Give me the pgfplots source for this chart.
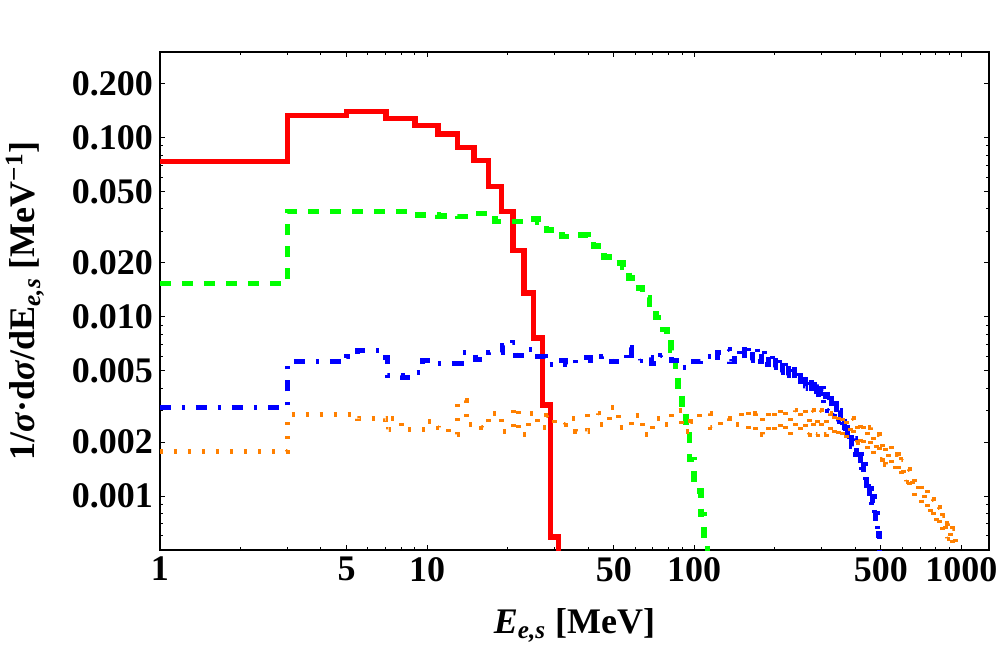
\documentclass[border=0pt]{standalone}
\usepackage{fontspec}
\setmainfont{Liberation Serif}
\usepackage{pgfplots}
\pgfplotsset{compat=1.18}
\definecolor{mred}{rgb}{1,0,0}
\definecolor{mgreen}{rgb}{0,1,0}
\definecolor{mblue}{rgb}{0,0,1}
\definecolor{morange}{rgb}{1,0.5,0}
\newcommand{\lbl}{\fontsize{18}{20}\selectfont\bfseries}
\begin{document}
\begin{tikzpicture}
\useasboundingbox (-80pt,-57pt) rectangle (420pt,275pt);
\begin{axis}[
    scale only axis,
    width=414.5pt, height=249pt,
    xmode=log, ymode=log,
    xmin=1, xmax=1270, ymin=0.0005, ymax=0.3,
    xtick={1,5,10,50,100,500,1000},
    xticklabels={1,5,10,50,100,500,1000},
    minor xtick={2,3,4,6,7,8,9,20,30,40,60,70,80,90,200,300,400,600,700,800,900},
    ytick={0.001,0.002,0.005,0.01,0.02,0.05,0.1,0.2},
    yticklabels={0.001,0.002,0.005,0.010,0.020,0.050,0.100,0.200},
    minor ytick={0.0006,0.0007,0.0008,0.0009,0.003,0.004,0.006,0.007,0.008,0.009,0.03,0.04,0.06,0.07,0.08,0.09},
    tick align=inside,
    major tick length=2.5pt, minor tick length=1.7pt,
    every tick/.style={black, line width=0.4pt},
    axis line style={line width=0.8pt},
    ticklabel style={font=\lbl},
    label style={font=\lbl},
    xlabel={\textit{E}\textsubscript{\textit{e,s}} [MeV]},
    ylabel={1/\textit{σ}·d\textit{σ}/dE\textsubscript{\textit{e,s}} [MeV\textsuperscript{−1}]},
    xlabel style={at={(axis description cs:0.5,-0.151)}, anchor=center},
    ylabel style={at={(axis description cs:-0.163,0.5)}, anchor=center},
    const plot,
]
% red: solid
\addplot[mred, line width=2.8pt] coordinates {
(1,0.0735) (3,0.133) (5,0.140) (7,0.128) (9,0.117) (11,0.105) (13,0.088)
(15,0.0744) (17,0.0532) (19,0.0386) (21,0.0234) (23,0.0136) (25,0.00764)
(27,0.00322) (29,0.00059) (31,0.0002) (33,0.0002)
};
% green: dashed
\addplot[mgreen, line width=2.8pt, dash pattern=on 5.5pt off 5.5pt] coordinates {
(1,0.0153) (3,0.0386) (9,0.0371) (11,0.0366) (13,0.0362) (15,0.0376) (18,0.034)
(24,0.0352) (26,0.0338) (28,0.0306) (32,0.028) (36,0.0285) (40,0.0272) (42,0.0249)
(46,0.0216) (50,0.0200) (54,0.0190) (57,0.0165)
(60,0.0145) (64,0.0128) (68,0.0112) (72,0.0099) (76,0.0085) (79,0.0074) (82,0.0065)
(85,0.0049) (87,0.0038) (90,0.0030) (93,0.0023) (96,0.0016) (100,0.00107)
(106,0.00079) (109,0.00054) (112,0.0003) (115,0.0003)
};
% blue: dash-dot
\addplot[mblue, line width=2.5pt, dash pattern=on 5.5pt off 5.5pt on 1.5pt off 5.5pt] coordinates {
(1,0.0031) (3,0.0056) (4.4,0.0056) (5.0,0.0060) (5.5,0.0065) (7.0,0.0059) (7.1,0.0047)
(8.1,0.0046) (8.9,0.0049) (9.6,0.0057) (10.9,0.0055) (12.6,0.0055) (13.4,0.0063)
(15.2,0.0058) (17,0.0063) (19.2,0.0069) (20.9,0.0072) (21.5,0.0061) (23.4,0.0066)
(26,0.0060) (27.8,0.0054) (30.9,0.0057) (33.1,0.0054) (36,0.0059) (41,0.0057)
(45,0.0060) (49,0.0056) (55.6,0.0067) (58,0.0057) (63,0.0059) (69,0.0055) (75,0.0061)
(82,0.0057) (89,0.0052) (97,0.0056) (106,0.0060) (116,0.0057) (122,0.0063)
(130,0.0066) (136,0.0056) (142,0.0065) (148,0.0058) (154,0.0070) (160,0.0057)
(166,0.0068) (172,0.0056) (178,0.0066) (184,0.0054) (190,0.0063) (196,0.0052)
(202,0.0061) (208,0.0049) (214,0.0058) (220,0.0047) (226,0.0055) (232,0.0045)
(238,0.0053) (244,0.0042) (250,0.0050) (256,0.0040) (262,0.0047) (268,0.0038)
(274,0.0045) (280,0.0036) (286,0.0042) (292,0.0034) (298,0.0040) (304,0.0032)
(310,0.0037) (316,0.0030) (322,0.0035) (328,0.0028) (334,0.0033) (340,0.0026)
(346,0.0030) (352,0.0024) (358,0.0028) (364,0.0022) (370,0.0026) (376,0.0020)
(382,0.0023) (388,0.0019) (394,0.0021) (400,0.0017) (406,0.0019) (412,0.0015)
(418,0.0017) (424,0.0013) (430,0.0015) (436,0.0011) (442,0.0013) (448,0.0010)
(454,0.0011) (460,0.00085) (466,0.0010) (472,0.00072) (478,0.00080) (484,0.00058)
(490,0.00062) (495,0.0003) (500,0.0003)
};
% orange: dotted
\addplot[morange, line width=2.5pt, dash pattern=on 1.5pt off 5.5pt] coordinates {
(1,0.00178) (3,0.00284) (5.5,0.0027) (7,0.00234) (7.2,0.0027) (8,0.00234) (10,0.0026)
(11,0.0024) (12,0.0022) (13,0.0034) (14,0.0025) (16,0.0024) (17,0.0029) (19,0.0023)
(21,0.0031) (22,0.0022) (24,0.0029) (26,0.0024) (28,0.0028) (30,0.0025) (33,0.0027)
(36,0.0023) (40,0.0029) (44,0.0025) (48,0.0031) (52,0.0024) (58,0.0028) (64,0.0022)
(70,0.0027) (76,0.0025) (82,0.0030) (90,0.0023) (97,0.0026) (105,0.0029) (115,0.0024)
(125,0.0027) (135,0.0025) (150,0.0030) (160,0.0023) (170,0.0029) (180,0.0022)
(190,0.0030) (200,0.0023) (210,0.0031) (220,0.0022) (230,0.0030) (240,0.0023)
(250,0.0031) (260,0.0022) (270,0.0030) (280,0.0022) (290,0.0030) (300,0.0022)
(312,0.0029) (324,0.0022) (336,0.0029) (348,0.0021) (360,0.0028) (372,0.0021)
(384,0.0027) (396,0.0020) (408,0.0026) (420,0.0019) (432,0.0025) (444,0.0018)
(456,0.0024) (468,0.0017) (480,0.0022) (492,0.0016) (505,0.0020) (520,0.0015)
(535,0.0019) (550,0.0014) (565,0.0017) (580,0.0013) (595,0.0016) (610,0.0012)
(625,0.0014) (640,0.0011) (655,0.0013) (670,0.0010) (690,0.0012) (710,0.00090)
(730,0.0011) (750,0.00080) (770,0.00096) (790,0.00072) (810,0.00086) (830,0.00064)
(850,0.00078) (870,0.00058) (890,0.00070) (910,0.00054) (930,0.00066) (950,0.00052)
(965,0.0003) (1000,0.0003)
};
\end{axis}
\end{tikzpicture}
\end{document}
